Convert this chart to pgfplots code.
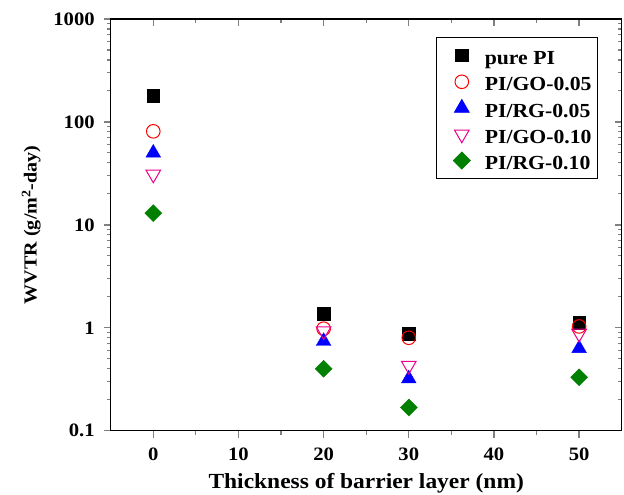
\documentclass[border=0pt]{standalone}
\usepackage{fontspec}
\setmainfont{Liberation Serif}[FakeStretch=1.09]
\usepackage{pgfplots}
\pgfplotsset{compat=1.18}
\usetikzlibrary{calc}
\definecolor{dgreen}{RGB}{0,128,0}
\begin{document}
\begin{tikzpicture}
\begin{axis}[scale only axis, width=511bp, height=411.7bp,
  xmin=-5, xmax=55, ymode=log, ymin=0.1, ymax=1000,
  xtick={0,10,20,30,40,50}, minor x tick num=1,
  ytick={0.1,1,10,100,1000},
  axis line style={line width=1.5bp},
  major tick style={line width=1.3bp},
  minor tick style={line width=1.1bp},
  major tick length=7bp, minor tick length=4bp,
  tick align=outside, xtick pos=left, ytick pos=left,
  xticklabels={0,10,20,30,40,50}, yticklabels={0.1,1,10,100,1000},
  tick label style={font=\bfseries\fontsize{19}{23}\selectfont},
  xticklabel style={yshift=-7bp},
  yticklabel style={xshift=-5.5bp},
  xlabel style={font=\bfseries\fontsize{21.6}{26}\selectfont},
  ylabel style={font=\bfseries\fontsize{18.5}{22}\selectfont},
  xlabel shift=6bp, ylabel shift=6bp,
  xlabel={Thickness of barrier layer (nm)},
  ylabel={WVTR (g/m\textsuperscript{2}-day)},
  legend image code/.code={\path[draw=none] (0bp,0bp) -- (42bp,0bp); \draw[only marks, mark repeat=2,mark phase=2] plot coordinates {(0bp,0bp) (21bp,0bp) (42bp,0bp)};},
  legend style={at={(0.9536,0.956)}, anchor=north east, draw=black, line width=0.8bp,
    font=\bfseries\fontsize{20}{24}\selectfont, row sep=4.25bp, inner xsep=4bp, inner ysep=7bp,
    nodes={inner sep=2bp, text height=18bp, text depth=0bp}},
  legend cell align=left,
]
\addplot[only marks, mark=square*, black, mark size=6.2bp] coordinates {(0,180) (20,1.37) (30,0.875) (50,1.12)};
\addlegendentry{pure PI}
\addplot[only marks, mark=o, red, mark size=6.8bp, mark options={line width=1bp}] coordinates {(0,81) (20,0.98) (30,0.80) (50,1.03)};
\addlegendentry{PI/GO-0.05}
\addplot[only marks, mark=triangle*, blue, mark size=8.5bp] coordinates {(0,50) (20,0.74) (30,0.32) (50,0.63)};
\addlegendentry{PI/RG-0.05}
\addplot[only marks, mark=triangle, magenta, mark size=8.5bp, mark options={rotate=180, line width=1bp}] coordinates {(0,31) (20,0.93) (30,0.43) (50,0.88)};
\addlegendentry{PI/GO-0.10}
\addplot[only marks, mark=square*, dgreen, mark size=6bp, mark options={rotate=45}] coordinates {(0,13) (20,0.40) (30,0.168) (50,0.33)};
\addlegendentry{PI/RG-0.10}
\end{axis}
\begin{axis}[scale only axis, width=511bp, height=411.7bp,
  xmin=-5, xmax=55, ymode=log, ymin=0.1, ymax=1000,
  xtick={0,10,20,30,40,50}, minor x tick num=1,
  ytick={0.1,1,10,100,1000},
  axis line style={line width=1.5bp},
  major tick style={line width=1.3bp},
  minor tick style={line width=1.1bp},
  major tick length=7bp, minor tick length=4bp,
  tick align=inside, xtick pos=right, ytick pos=right, xticklabels={}, yticklabels={}]
\addplot[draw=none, forget plot] coordinates {(0,1)};
\end{axis}
\pgfresetboundingbox
\path ($(current axis.south west)+(-110.7bp,-64.3bp)$) rectangle ($(current axis.north east)+(2.3bp,19bp)$);
\end{tikzpicture}
\end{document}
